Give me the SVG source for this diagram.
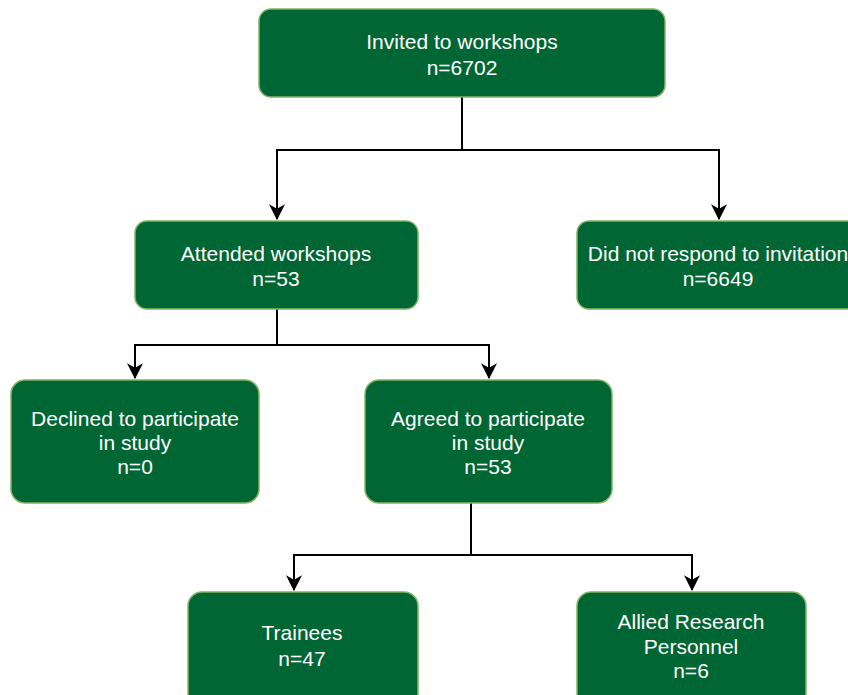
<svg xmlns="http://www.w3.org/2000/svg" width="848" height="695" viewBox="0 0 848 695">
<style>
.box{fill:#006633;stroke:#82b366;stroke-width:1.5}
.t{fill:#ffffff;font-family:"Liberation Sans",Arial,Helvetica,sans-serif;font-size:21px;text-anchor:middle}
.c{fill:none;stroke:#000000;stroke-width:2}
</style>
<defs>
<marker id="arr" markerUnits="userSpaceOnUse" markerWidth="16" markerHeight="16" viewBox="0 0 14 14" refX="13" refY="7" orient="auto">
<path d="M0,0 L14,7 L0,14 L4,7 Z" fill="#000"/>
</marker>
</defs>
<g id="connectors">
<path class="c" d="M462,97 V150 H277 V219" marker-end="url(#arr)"/>
<path class="c" d="M462,150 H719 V219" marker-end="url(#arr)"/>
<path class="c" d="M277,309 V345 H135 V378" marker-end="url(#arr)"/>
<path class="c" d="M277,345 H489 V378" marker-end="url(#arr)"/>
<path class="c" d="M471,503 V555 H294 V590" marker-end="url(#arr)"/>
<path class="c" d="M471,555 H692 V590" marker-end="url(#arr)"/>
</g>
<g id="invited">
<rect class="box" x="259" y="9" width="406" height="88" rx="12"/>
<text class="t" x="462" y="49">Invited to workshops</text>
<text class="t" x="462" y="75">n=6702</text>
</g>
<g id="attended">
<rect class="box" x="135" y="221" width="283" height="88" rx="12"/>
<text class="t" x="276" y="261">Attended workshops</text>
<text class="t" x="276" y="286">n=53</text>
</g>
<g id="noresponse">
<rect class="box" x="577" y="221" width="283" height="88" rx="12"/>
<text class="t" x="718" y="261">Did not respond to invitation</text>
<text class="t" x="718" y="286">n=6649</text>
</g>
<g id="declined">
<rect class="box" x="11" y="380" width="248" height="123" rx="14"/>
<text class="t" x="135" y="426">Declined to participate</text>
<text class="t" x="135" y="450">in study</text>
<text class="t" x="135" y="474">n=0</text>
</g>
<g id="agreed">
<rect class="box" x="365" y="380" width="247" height="123" rx="14"/>
<text class="t" x="488" y="426">Agreed to participate</text>
<text class="t" x="488" y="450">in study</text>
<text class="t" x="488" y="474">n=53</text>
</g>
<g id="trainees">
<rect class="box" x="188" y="592" width="230" height="115" rx="14"/>
<text class="t" x="302" y="640">Trainees</text>
<text class="t" x="302" y="666">n=47</text>
</g>
<g id="allied">
<rect class="box" x="577" y="592" width="229" height="115" rx="14"/>
<text class="t" x="691" y="629">Allied Research</text>
<text class="t" x="691" y="654">Personnel</text>
<text class="t" x="691" y="678">n=6</text>
</g>
</svg>
